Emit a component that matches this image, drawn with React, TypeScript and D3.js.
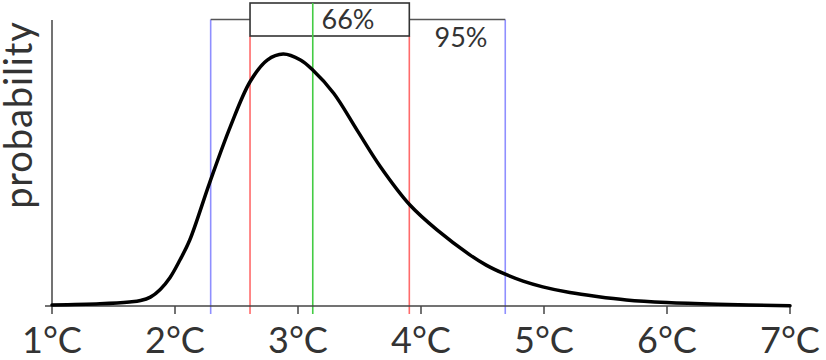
import React from "react";
import * as d3 from "d3";

const temps = [1.0, 1.39, 1.63, 1.72, 1.8, 1.88, 1.96, 2.04, 2.12, 2.28, 2.45, 2.61, 2.75, 2.88, 3.02, 3.12, 3.29, 3.48, 3.67, 3.91, 4.13, 4.4, 4.53, 4.68, 4.83, 4.99, 5.21, 5.43, 5.67, 6.0, 6.41, 7.0];
const probability = [0.0035, 0.0077, 0.014, 0.019, 0.031, 0.058, 0.1, 0.1608, 0.2308, 0.429, 0.627, 0.784, 0.86, 0.881, 0.86, 0.825, 0.744, 0.615, 0.487, 0.353, 0.266, 0.178, 0.143, 0.112, 0.087, 0.067, 0.047, 0.033, 0.021, 0.012, 0.006, 0.001];
const tickValues = [1, 2, 3, 4, 5, 6, 7];
const tickLabels = ["1°C", "2°C", "3°C", "4°C", "5°C", "6°C", "7°C"];
const range95 = [2.29, 4.685];
const range66 = [2.61, 3.905];
const median = 3.12;
const label66 = "66%";
const label95 = "95%";
const yLabel = "probability";

const W = 826;
const H = 360;
const FONT = "Lato, 'Open Sans', sans-serif";

export default function App() {
  const x = d3.scaleLinear().domain([1, 7]).range([52, 790]);
  const y = d3.scaleLinear().domain([0, 1]).range([306, 20]);
  const pts = temps.map((t, i) => [t, probability[i]] as [number, number]);
  const line = d3
    .line<[number, number]>()
    .x((d) => x(d[0]))
    .y((d) => y(d[1]))
    .curve(d3.curveCatmullRom.alpha(0.5));

  const boxTop = 3;
  const boxBottom = 36;
  const whiskerY = 19.5;
  const axisY = y(0);

  return (
    <svg
      width={W}
      height={H}
      style={{ position: "fixed", left: 0, top: 0, background: "#fff" }}
      fontFamily={FONT}
    >
      {/* y axis */}
      <line x1={x(1)} x2={x(1)} y1={y(1)} y2={axisY} stroke="#444" strokeWidth={1.5} />
      <text
        transform={`translate(32,115) rotate(-90)`}
        textAnchor="middle"
        fontSize={38}
        letterSpacing={0.9}
        fill="#333"
      >
        {yLabel}
      </text>

      {/* vertical marker lines */}
      {range95.map((v, i) => (
        <line key={"b" + i} x1={x(v)} x2={x(v)} y1={whiskerY} y2={axisY + 8} stroke="#8f8fff" strokeWidth={1.6} />
      ))}
      {range66.map((v, i) => (
        <line key={"r" + i} x1={x(v)} x2={x(v)} y1={boxBottom} y2={axisY + 8} stroke="#ff6b6b" strokeWidth={1.6} />
      ))}

      {/* whisker */}
      <line x1={x(range95[0])} x2={x(range66[0])} y1={whiskerY} y2={whiskerY} stroke="#555" strokeWidth={1.6} />
      <line x1={x(range66[1])} x2={x(range95[1])} y1={whiskerY} y2={whiskerY} stroke="#555" strokeWidth={1.6} />
      <rect
        x={x(range66[0])}
        y={boxTop}
        width={x(range66[1]) - x(range66[0])}
        height={boxBottom - boxTop}
        fill="#fff"
        stroke="#333"
        strokeWidth={1.6}
      />
      <line x1={x(median)} x2={x(median)} y1={boxTop} y2={axisY + 8} stroke="#44cc44" strokeWidth={1.6} />

      <text x={348} y={29} textAnchor="middle" fontSize={27} fill="#333">
        {label66}
      </text>
      <text x={461} y={46.5} textAnchor="middle" fontSize={27} fill="#333">
        {label95}
      </text>

      {/* x axis */}
      <line x1={45} x2={x(7)} y1={axisY} y2={axisY} stroke="#444" strokeWidth={1.5} />
      {tickValues.map((t, i) => (
        <g key={t}>
          <line x1={x(t)} x2={x(t)} y1={axisY} y2={axisY + 8} stroke="#444" strokeWidth={1.5} />
          <text x={x(t)} y={353} textAnchor="middle" fontSize={36} fill="#333">
            {tickLabels[i]}
          </text>
        </g>
      ))}

      {/* density curve */}
      <path d={line(pts) || ""} fill="none" stroke="#000" strokeWidth={3.5} strokeLinecap="round" />
    </svg>
  );
}
